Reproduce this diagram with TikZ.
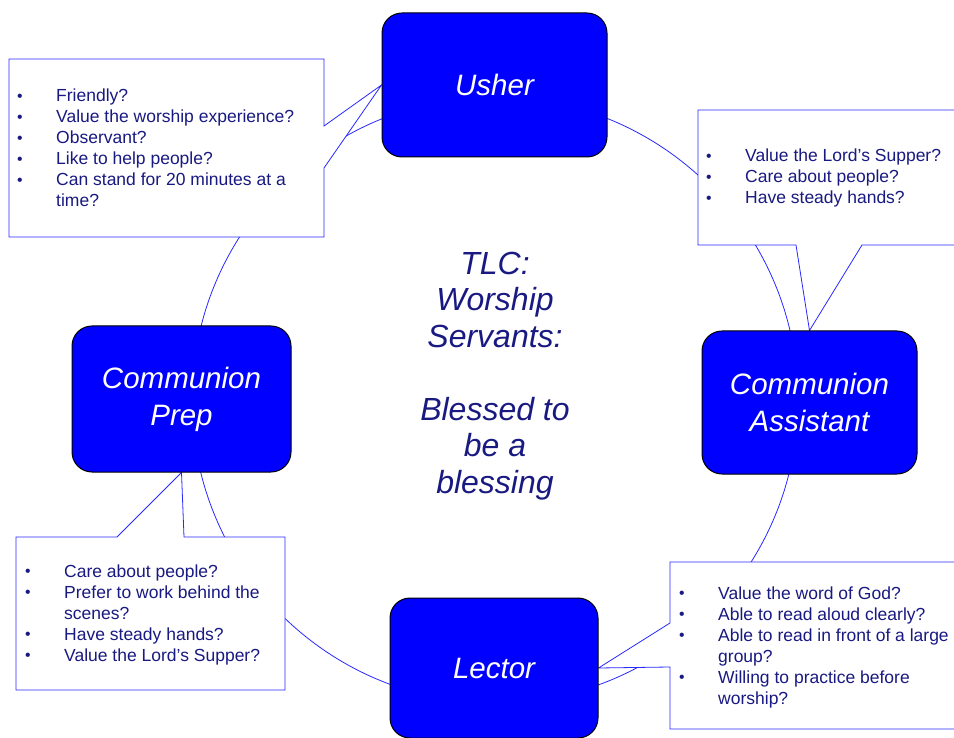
\documentclass[tikz,border=0pt]{standalone}
\usepackage{fontspec}
\usepackage{tikz}
\usetikzlibrary{backgrounds}
\setmainfont{Liberation Sans}

\definecolor{boxblue}{RGB}{0,0,255}
\definecolor{ringblue}{RGB}{40,40,255}
\definecolor{navytext}{RGB}{25,25,130}

% list rows: bullet and question
\newcommand{\qrow}[1]{\raisebox{0.5pt}{\scalebox{0.9}{\textbullet}} & #1\\}
\newcommand{\qmore}[1]{ & #1\\}
\newenvironment{qlist}{\fontsize{17.5}{21}\selectfont\begin{tabular}[t]{@{}p{39pt}@{}l@{}}}{\end{tabular}}

\begin{document}
\begin{tikzpicture}
[x=1pt,y=-1pt,
 role/.style={rectangle,rounded corners=20pt,fill=boxblue,draw=black,line width=1pt,
   text=white,font=\fontsize{29.5}{37}\selectfont\itshape,align=center},
 callout/.style={draw=ringblue,fill=white,line width=0.8pt,line join=miter},
 ring/.style={draw=ringblue,line width=0.8pt},
 questions/.style={anchor=base west,inner sep=0pt,text=navytext}]
  \useasboundingbox (0,0) rectangle (954,738);

  \node[role,minimum width=225pt,minimum height=144pt] (usher) at (494.5,85) {Usher};
  \node[role,minimum width=215pt,minimum height=143pt] (assist) at (809.5,402.5) {Communion\\Assistant};
  \node[role,minimum width=208pt,minimum height=140pt] (lector) at (494,668) {Lector};
  \node[role,minimum width=219pt,minimum height=146pt] (prep) at (181.5,399) {Communion\\Prep};

  \node[text=navytext,font=\fontsize{32}{36.5}\selectfont\itshape,align=center] (theme) at (495,376)
    {TLC:\\Worship\\Servants:\\[36.5pt]Blessed to\\be a\\blessing};

  \coordinate (hub) at (495,400);

  \begin{scope}[on background layer]
    \draw[ring] (hub) circle[radius=303pt];
    % callouts
    \draw[callout] (9,59) -- (324,59) -- (324,126) -- (usher.west) -- (324,168) -- (324,237) -- (9,237) -- cycle;
    \draw[callout] (698,110) -- (960,110) -- (960,245) -- (862,245) -- (assist.north) -- (796,245) -- (698,245) -- cycle;
    \draw[callout] (16,537) -- (117,537) -- (prep.south) -- (184,537) -- (285,537) -- (285,690) -- (16,690) -- cycle;
    \draw[callout] (670,562) -- (960,562) -- (960,729) -- (670,729) -- (670,667) -- (lector.east) -- (670,623) -- cycle;
  \end{scope}

  \node[questions] (usherq) at (17,102) {\begin{qlist}
    \qrow{Friendly?}
    \qrow{Value the worship experience?}
    \qrow{Observant?}
    \qrow{Like to help people?}
    \qrow{Can stand for 20 minutes at a}
    \qmore{time?}
  \end{qlist}};

  \node[questions] (assistq) at (706,162) {\begin{qlist}
    \qrow{Value the Lord’s Supper?}
    \qrow{Care about people?}
    \qrow{Have steady hands?}
  \end{qlist}};

  \node[questions] (prepq) at (25,577) {\begin{qlist}
    \qrow{Care about people?}
    \qrow{Prefer to work behind the}
    \qmore{scenes?}
    \qrow{Have steady hands?}
    \qrow{Value the Lord’s Supper?}
  \end{qlist}};

  \node[questions] (lectorq) at (679,599) {\begin{qlist}
    \qrow{Value the word of God?}
    \qrow{Able to read aloud clearly?}
    \qrow{Able to read in front of a large}
    \qmore{group?}
    \qrow{Willing to practice before}
    \qmore{worship?}
  \end{qlist}};
\end{tikzpicture}
\end{document}
